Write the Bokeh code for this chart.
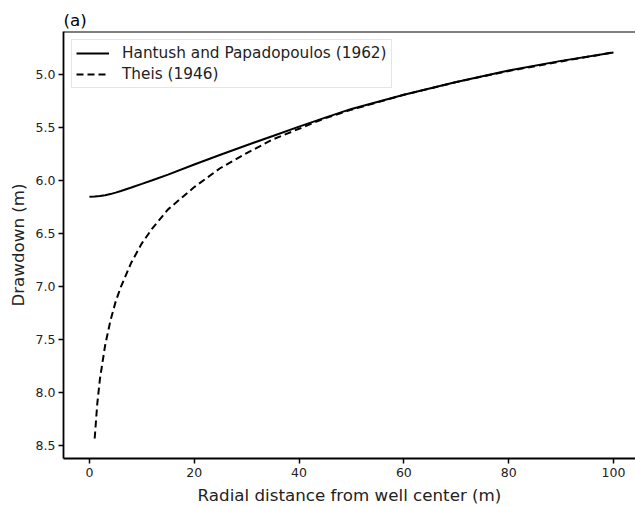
from bokeh.plotting import figure
from bokeh.models import Range1d, FixedTicker, Span, Legend, LegendItem, NumeralTickFormatter
from bokeh.embed import file_html
from bokeh.resources import INLINE

# Radial distance (m) and drawdown (m)
hantush_r = [0, 1, 2, 3, 4, 5, 6, 8, 10, 12, 15, 20, 25, 30, 35, 40, 45, 50, 60, 70, 80, 90, 100]
hantush_s = [6.150, 6.149, 6.145, 6.137, 6.126, 6.112, 6.097, 6.064, 6.030, 5.995, 5.942, 5.847,
             5.755, 5.665, 5.578, 5.49, 5.405, 5.323, 5.19, 5.07, 4.96, 4.87, 4.79]
theis_r = [1, 1.5, 2, 2.5, 3, 4, 5, 6, 8, 10, 12, 15, 20, 25, 30, 35, 40, 45, 50, 60, 70, 80, 90, 100]
theis_s = [8.43, 8.10, 7.87, 7.71, 7.55, 7.32, 7.14, 7.00, 6.77, 6.59, 6.45, 6.27, 6.06, 5.88,
           5.74, 5.61, 5.51, 5.41, 5.33, 5.19, 5.07, 4.965, 4.875, 4.79]
x_ticks = [0, 20, 40, 60, 80, 100]
y_ticks = [5.0, 5.5, 6.0, 6.5, 7.0, 7.5, 8.0, 8.5]
series_names = ["Hantush and Papadopoulos (1962)", "Theis (1946)"]

FONT = "DejaVu Sans"

p = figure(width=635, height=507, output_backend="svg", toolbar_location=None, tools="",
           x_range=Range1d(-4.95, 104.2), y_range=Range1d(8.619, 4.593),
           min_border_left=63, min_border_right=0, min_border_top=31, min_border_bottom=49)

p.title.text = "(a)"
p.title.align = "left"
p.title.text_font = FONT
p.title.text_font_size = "16.7px"
p.title.text_font_style = "normal"
p.title.text_color = "#000000"
p.title.standoff = 3
p.title.offset = 0

p.outline_line_color = None
p.xgrid.visible = False
p.ygrid.visible = False
p.background_fill_color = "white"
p.border_fill_color = "white"

top_spine = Span(location=4.593, dimension="width", line_color="black", line_width=1.8)
p.add_layout(top_spine)

for ax in (p.xaxis[0], p.yaxis[0]):
    ax.axis_line_width = 1.8
    ax.axis_line_color = "black"
    ax.major_tick_out = 5
    ax.major_tick_in = 0
    ax.major_tick_line_width = 1.5
    ax.major_tick_line_color = "black"
    ax.minor_tick_line_color = None
    ax.major_label_text_font = FONT
    ax.major_label_text_font_size = "12.5px"
    ax.major_label_text_color = "#222222"
    ax.major_label_standoff = 4
    ax.axis_label_text_font = FONT
    ax.axis_label_text_font_size = "16.7px"
    ax.axis_label_text_font_style = "normal"
    ax.axis_label_text_color = "#222222"
    ax.axis_label_standoff = 5

p.yaxis[0].major_label_standoff = 3
p.xaxis[0].ticker = FixedTicker(ticks=x_ticks)
p.yaxis[0].ticker = FixedTicker(ticks=y_ticks)
p.yaxis[0].formatter = NumeralTickFormatter(format="0.0")
p.xaxis[0].axis_label = "Radial distance from well center (m)"
p.yaxis[0].axis_label = "Drawdown (m)"

r1 = p.line(hantush_r, hantush_s, line_color="black", line_width=2)
r2 = p.line(theis_r, theis_s, line_color="black", line_width=2, line_dash="7 4")

legend = Legend(items=[LegendItem(label=series_names[0], renderers=[r1]),
                       LegendItem(label=series_names[1], renderers=[r2])],
                location="top_left")
legend.margin = 8
legend.padding = 4
legend.spacing = 3
legend.glyph_width = 33
legend.glyph_height = 18
legend.label_height = 18
legend.label_standoff = 13
legend.label_text_font = FONT
legend.label_text_font_size = "15.3px"
legend.label_text_color = "#222222"
legend.border_line_color = "#cccccc"
legend.border_line_width = 1
legend.background_fill_color = "white"
legend.background_fill_alpha = 0.8
p.add_layout(legend)

open("out.html", "w").write(file_html(p, INLINE))
